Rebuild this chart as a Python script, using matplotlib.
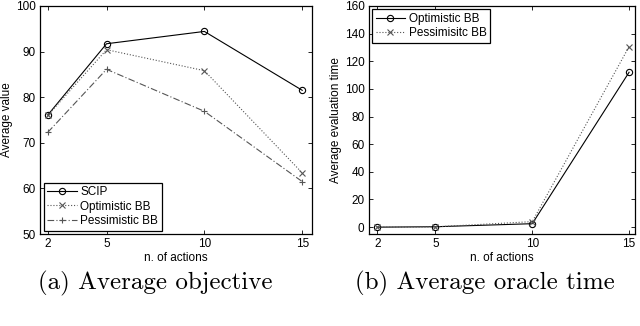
import matplotlib
matplotlib.use("Agg")
import matplotlib.pyplot as plt

actions = [2, 5, 10, 15]

# (a) average objective
scip = [76.1, 91.7, 94.4, 81.5]
opt_obj = [76.0, 90.4, 85.8, 63.4]
pess_obj = [72.3, 86.1, 76.9, 61.5]

# (b) average oracle time
opt_time = [0.0, 0.3, 2.5, 112.0]
pess_time = [0.0, 0.2, 4.0, 130.5]

plt.rcParams["font.family"] = ["Liberation Sans", "DejaVu Sans"]
plt.rcParams["font.size"] = 8.5

fig = plt.figure(figsize=(6.4, 3.26), dpi=100)
ax1 = fig.add_axes([0.0625, 0.282, 0.425, 0.700])
ax2 = fig.add_axes([0.576, 0.282, 0.416, 0.700])


def matlab_style(ax):
    ax.tick_params(direction="in", top=True, right=True, length=3, width=0.6,
                   labelsize=8.5, pad=3)
    for s in ax.spines.values():
        s.set_linewidth(0.9)
    ax.set_xticks(actions)
    ax.set_xlabel("n. of actions", fontsize=8.5, labelpad=1)


mk = dict(markersize=4.5, markerfacecolor="none", linewidth=0.8,
          markeredgewidth=0.8)

ax1.plot(actions, scip, "-o", color="black", label="SCIP", **mk)
ax1.plot(actions, opt_obj, ":x", color="#555555", label="Optimistic BB", **mk)
ax1.plot(actions, pess_obj, color="#555555", marker="+", dashes=(6, 2, 1, 2),
         label="Pessimistic BB", **mk)
ax1.set_xlim(1.6, 15.5)
ax1.set_ylim(50, 100)
ax1.set_yticks([50, 60, 70, 80, 90, 100])
ax1.set_ylabel("Average value", fontsize=8.5, labelpad=2)
matlab_style(ax1)
leg1 = ax1.legend(loc="lower left", fancybox=False, edgecolor="black",
                  framealpha=1, borderaxespad=0.3, handlelength=2.5,
                  borderpad=0.3, labelspacing=0.2, handletextpad=0.3,
                  fontsize=8.5)
leg1.get_frame().set_linewidth(0.9)

ax2.plot(actions, opt_time, "-o", color="black", label="Optimistic BB", **mk)
ax2.plot(actions, pess_time, ":x", color="#555555", label="Pessimisitc BB", **mk)
ax2.set_xlim(1.55, 15.3)
ax2.set_ylim(-5, 160)
ax2.set_yticks([0, 20, 40, 60, 80, 100, 120, 140, 160])
ax2.set_ylabel("Average evaluation time", fontsize=8.5, labelpad=2)
matlab_style(ax2)
leg2 = ax2.legend(loc="upper left", fancybox=False, edgecolor="black",
                  framealpha=1, borderaxespad=0.3, handlelength=2.5,
                  borderpad=0.3, labelspacing=0.2, handletextpad=0.3,
                  fontsize=8.5)
leg2.get_frame().set_linewidth(0.9)

fig.text(0.242, 0.13, "(a) Average objective", family="cmr10", fontsize=18,
         ha="center", va="center")
fig.text(0.757, 0.13, "(b) Average oracle time", family="cmr10", fontsize=18,
         ha="center", va="center")

fig.savefig("out.png", dpi=100)
